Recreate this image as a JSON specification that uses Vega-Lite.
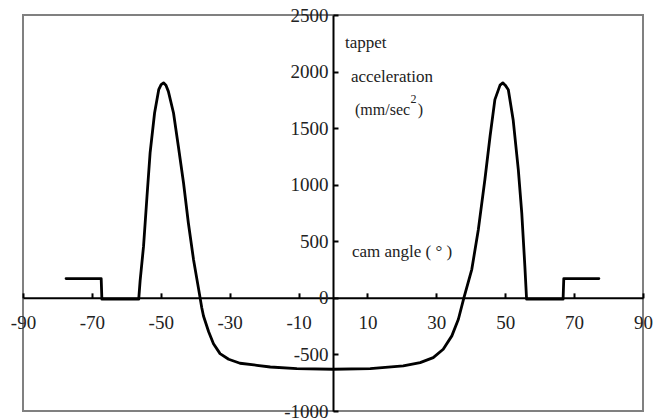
{
  "$schema": "https://vega.github.io/schema/vega-lite/v6.json",
  "width": 620,
  "height": 396,
  "autosize": {"type": "none"},
  "padding": {"left": 23, "top": 15, "right": 22, "bottom": 7},
  "background": "white",
  "config": {
    "view": {"stroke": "#808080", "strokeWidth": 2},
    "font": "Liberation Serif",
    "axis": {
      "grid": false,
      "domainColor": "black",
      "domainWidth": 2,
      "tickColor": "black",
      "tickWidth": 2,
      "labelColor": "#222",
      "labelFont": "Liberation Serif",
      "labelFontSize": 19,
      "title": null
    }
  },
  "datasets": {
    "curve": [
      {"angle": -77.5, "acc": 170},
      {"angle": -67.3, "acc": 170},
      {"angle": -67.1, "acc": -12},
      {"angle": -56.4, "acc": -12},
      {"angle": -56.0, "acc": 150},
      {"angle": -55.0, "acc": 457},
      {"angle": -54.0, "acc": 898},
      {"angle": -53.1, "acc": 1281},
      {"angle": -51.8, "acc": 1634},
      {"angle": -50.6, "acc": 1840},
      {"angle": -49.9, "acc": 1885},
      {"angle": -49.2, "acc": 1900},
      {"angle": -48.5, "acc": 1880},
      {"angle": -47.8, "acc": 1825},
      {"angle": -46.3, "acc": 1634},
      {"angle": -44.9, "acc": 1340},
      {"angle": -43.4, "acc": 1017},
      {"angle": -42.0, "acc": 664},
      {"angle": -40.5, "acc": 340},
      {"angle": -39.0, "acc": 75},
      {"angle": -38.1, "acc": -87},
      {"angle": -37.6, "acc": -160},
      {"angle": -36.1, "acc": -300},
      {"angle": -34.7, "acc": -405},
      {"angle": -32.8, "acc": -493},
      {"angle": -30.3, "acc": -543},
      {"angle": -27.0, "acc": -578},
      {"angle": -22.1, "acc": -596},
      {"angle": -18.2, "acc": -611},
      {"angle": -10.5, "acc": -625},
      {"angle": 0, "acc": -631},
      {"angle": 10.8, "acc": -625},
      {"angle": 20.4, "acc": -602},
      {"angle": 25.3, "acc": -572},
      {"angle": 29.1, "acc": -528},
      {"angle": 32.0, "acc": -454},
      {"angle": 34.5, "acc": -336},
      {"angle": 36.4, "acc": -189},
      {"angle": 38.0, "acc": 0},
      {"angle": 40.3, "acc": 252},
      {"angle": 42.2, "acc": 605},
      {"angle": 44.1, "acc": 1046},
      {"angle": 45.6, "acc": 1428},
      {"angle": 47.0, "acc": 1752},
      {"angle": 48.5, "acc": 1880},
      {"angle": 49.3, "acc": 1900},
      {"angle": 50.0, "acc": 1880},
      {"angle": 50.9, "acc": 1840},
      {"angle": 52.3, "acc": 1575},
      {"angle": 53.8, "acc": 1134},
      {"angle": 54.8, "acc": 752},
      {"angle": 55.7, "acc": 281},
      {"angle": 56.2, "acc": -12},
      {"angle": 66.8, "acc": -12},
      {"angle": 67.0, "acc": 170},
      {"angle": 77.2, "acc": 170}
    ],
    "notes": [
      {"angle": 3.5, "acc": 2255, "text": "tappet", "size": 17},
      {"angle": 5.2, "acc": 1955, "text": "acceleration", "size": 17},
      {"angle": 6.4, "acc": 1664, "text": "(mm/sec", "size": 16},
      {"angle": 22.5, "acc": 1760, "text": "2", "size": 12},
      {"angle": 24.6, "acc": 1664, "text": ")", "size": 16},
      {"angle": 5.5, "acc": 402, "text": "cam angle ( ° )", "size": 17}
    ]
  },
  "encoding": {
    "x": {
      "field": "angle",
      "type": "quantitative",
      "scale": {"domain": [-90, 90], "nice": false, "zero": false},
      "axis": {
        "orient": "bottom",
        "offset": -113.14,
        "values": [-90, -70, -50, -30, -10, 10, 30, 50, 70, 90],
        "format": "d",
        "tickSize": -5,
        "labelPadding": 21,
        "labelFlush": false,
        "labelOverlap": false,
        "labelExpr": "replace(datum.label, '\u2212', '-')"
      }
    },
    "y": {
      "field": "acc",
      "type": "quantitative",
      "scale": {"domain": [-1000, 2500], "nice": false, "zero": false},
      "axis": {
        "orient": "left",
        "offset": -310,
        "values": [-1000, -500, 0, 500, 1000, 1500, 2000, 2500],
        "format": "d",
        "tickSize": -5,
        "labelPadding": 10,
        "labelFlush": false,
        "labelOverlap": false,
        "labelExpr": "replace(datum.label, '\u2212', '-')"
      }
    }
  },
  "layer": [
    {
      "data": {"name": "curve"},
      "mark": {"type": "line", "color": "black", "strokeWidth": 2.8, "strokeJoin": "round", "strokeCap": "round"}
    },
    {
      "data": {"name": "notes"},
      "mark": {"type": "text", "align": "left", "baseline": "middle", "color": "#222", "font": "Liberation Serif"},
      "encoding": {
        "text": {"field": "text"},
        "size": {"field": "size", "type": "quantitative", "scale": null}
      }
    }
  ]
}
